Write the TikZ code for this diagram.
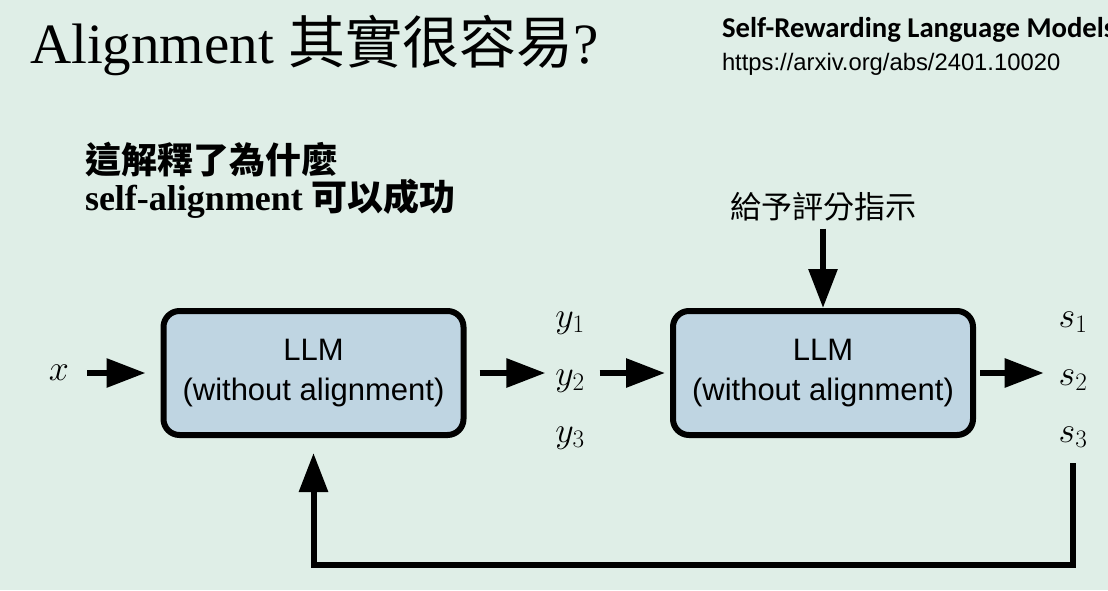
\RequirePackage{fix-cm}
\documentclass[tikz,border=0pt]{standalone}
\usepackage{fontspec}
\setmainfont{Liberation Serif}
\newfontfamily\cjk{Noto Sans CJK TC}
\newfontfamily\arial{Liberation Sans}
\newfontfamily\calibri{Carlito}
\usetikzlibrary{arrows.meta,positioning}
\definecolor{bgcol}{HTML}{DFEEE7}
\definecolor{boxcol}{HTML}{BFD5E2}
\tikzset{
	llmbox/.style={draw, line width=6pt, rounded corners=16pt, fill=boxcol,
		minimum width=300pt, minimum height=124pt, inner sep=0pt, align=center,
		font=\arial\fontsize{31}{40}\selectfont},
	arr/.style={line width=6pt, -{Triangle[length=39pt,width=28pt]}},
	var/.style={inner sep=0pt, outer sep=0pt, font=\fontsize{36}{36}\selectfont},
	txt/.style={inner sep=0pt, outer sep=0pt, anchor=base west}
}
\begin{document}
\begin{tikzpicture}[x=1pt,y=-1pt]
	\useasboundingbox (0,0) rectangle (1108,590);
	\fill[bgcol] (0,0) rectangle (1108,590);
	% heading
	\node[txt, font=\fontsize{57}{57}\selectfont] (title) at (30,63) {Alignment {\cjk 其實很容易}?};
	\node[txt, font=\calibri\bfseries\fontsize{28.7}{28.7}\selectfont] (paper) at (722,37) {Self-Rewarding Language Models};
	\node[txt, font=\arial\fontsize{23.8}{23.8}\selectfont] (url) at (722,70) {https://arxiv.org/abs/2401.10020};
	\node[txt, font=\cjk\bfseries\fontsize{36}{36}\selectfont] (note1) at (85,173) {這解釋了為什麼};
	\node[txt, font=\bfseries\fontsize{36}{36}\selectfont] (note2) at (85,210) {self-alignment {\cjk 可以成功}};
	% the two models
	\node[llmbox] (llm1) at (313.5,373) {LLM\\(without alignment)};
	\node[llmbox] (llm2) at (823,373) {LLM\\(without alignment)};
	\node[txt, anchor=base, font=\cjk\fontsize{31}{31}\selectfont] (inst) at (823,218) {給予評分指示};
	% inputs and outputs
	\node[var] (x) at (59,373) {$x$};
	\node[var, anchor=base] (y1) at (570,327) {$y_1$};
	\node[var, anchor=base] (y2) at (570,385) {$y_2$};
	\node[var, anchor=base] (y3) at (570,442) {$y_3$};
	\node[var, anchor=base] (s1) at (1073,327) {$s_1$};
	\node[var, anchor=base] (s2) at (1073,385) {$s_2$};
	\node[var, anchor=base] (s3) at (1073,442) {$s_3$};
	\coordinate (fb) at (0,565);
	% arrows
	\draw[arr, shorten <=18pt, shorten >=15pt] (x) -- (llm1);
	\draw[arr, shorten <=13pt, shorten >=10pt] (llm1.east) -- (llm1.east -| y2.west);
	\draw[arr, shorten <=15pt, shorten >=5pt] (y2.east |- llm2) -- (llm2.west);
	\draw[arr, shorten <=4pt, shorten >=15pt] (llm2.east) -- (llm2.east -| s2.west);
	\draw[arr, shorten <=8pt] (inst.south) -- (llm2.north);
	\draw[arr, shorten <=16pt, shorten >=15pt] (s3.south) -- (s3.south |- fb) -| (llm1.south);
\end{tikzpicture}
\end{document}
